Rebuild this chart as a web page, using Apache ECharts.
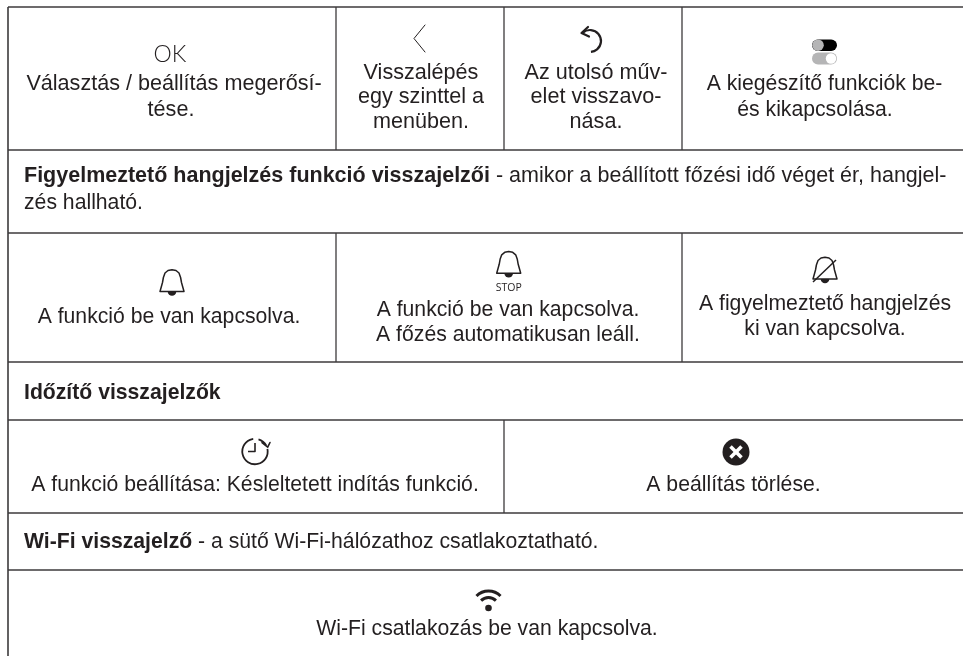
<!DOCTYPE html>
<html><head><meta charset="utf-8">
<style>html,body{margin:0;padding:0;background:#fff}#c{width:963px;height:656px}</style>
<script src="https://cdn.jsdelivr.net/npm/echarts@6/dist/echarts.min.js"></script>
</head><body><div id="c"></div>
<script>
const okLabel = 'OK';
const stopLabel = 'STOP';
const row1Texts = [
  ['Választás / beállítás megerősí-', 'tése.'],
  ['Visszalépés', 'egy szinttel a', 'menüben.'],
  ['Az utolsó műv-', 'elet visszavo-', 'nása.'],
  ['A kiegészítő funkciók be-', 'és kikapcsolása.']
];
const alertHeadBold = 'Figyelmeztető hangjelzés funkció visszajelzői';
const alertHeadRest = [' - amikor a beállított főzési idő véget ér, hangjel-', 'zés hallható.'];
const row3Texts = [
  ['A funkció be van kapcsolva.'],
  ['A funkció be van kapcsolva.', 'A főzés automatikusan leáll.'],
  ['A figyelmeztető hangjelzés', 'ki van kapcsolva.']
];
const timerHead = 'Időzítő visszajelzők';
const row5Texts = ['A funkció beállítása: Késleltetett indítás funkció.', 'A beállítás törlése.'];
const wifiHeadBold = 'Wi-Fi visszajelző';
const wifiHeadRest = ' - a sütő Wi-Fi-hálózathoz csatlakoztatható.';
const wifiText = 'Wi-Fi csatlakozás be van kapcsolva.';

const INK = '#231f20', LINE = '#3c3a3b', FAMILY = 'Liberation Sans', FS = 21.2, FS_WIDE = 21.6;
const els = [];
function line(x1, y1, x2, y2, w, c) {
  els.push({type:'line', shape:{x1,y1,x2,y2}, style:{stroke:c||LINE, lineWidth:w||1.5}, silent:true});
}
// y is the wanted baseline of the line of text
function text(str, x, y, align, extra) {
  const o = Object.assign({fontFamily:FAMILY, fontSize:FS, fontWeight:'normal'}, extra||{});
  els.push({type:'text', x, y:y-o.fontSize*0.35+3, style:Object.assign({text:str, fill:INK, align:align||'center', verticalAlign:'middle'}, o)});
}
function mixed(bold, rest, y, fs) {
  els.push({type:'text', x:24, y:y-fs*0.35+3, style:{
    text:'{b|'+bold+'}{r|'+rest+'}', verticalAlign:'middle', align:'left',
    rich:{b:{fontFamily:FAMILY,fontWeight:'bold',fontSize:fs,fill:INK},
          r:{fontFamily:FAMILY,fontSize:fs,fill:INK}}}});
}
function poly(points, o) {
  els.push({type:'polyline', shape:{points}, style:Object.assign({stroke:INK, lineWidth:1.6, fill:null, lineCap:'round', lineJoin:'round'}, o||{}), silent:true});
}
function bell(cx, base) {
  const p = [[-12,0],[-9.5,-9],[-8.6,-14],[-7,-18.5],[-4,-21],[0,-21.8],[4,-21],[7,-18.5],[8.6,-14],[9.5,-9],[12,0],[-12,0]]
    .map(q=>[cx+q[0], base+q[1]]);
  poly(p, {lineWidth:1.5});
  els.push({type:'sector', shape:{cx, cy:base, r:4.3, r0:0, startAngle:0, endAngle:Math.PI, clockwise:true}, style:{fill:INK}, silent:true});
}
function arc(cx, cy, r, a0, a1, w) {
  els.push({type:'arc', shape:{cx,cy,r,startAngle:a0*Math.PI/180,endAngle:a1*Math.PI/180,clockwise:true}, style:{stroke:INK,lineWidth:w,fill:null}, silent:true});
}
// grid
[7,150,233,362,420,513,570].forEach(y=>line(8,y,963,y,1.6));
line(8,7,8,656,1.6);
[336,504,682].forEach(x=>line(x,7,x,150,1.3));
[336,682].forEach(x=>line(x,233,x,362,1.3));
line(504,420,504,513,1.3);

// row 1
const wide = {fontSize:FS_WIDE};
text(okLabel, 170, 60, 'center', {fontFamily:'Lato', fontSize:23, fontWeight:300});
text(row1Texts[0][0], 174, 89, 'center', wide); text(row1Texts[0][1], 171, 115, 'center', wide);
[78,102,127].forEach((b,i)=>text(row1Texts[1][i], 421, b, 'center', wide));
[78,102,127].forEach((b,i)=>text(row1Texts[2][i], 596, b, 'center', wide));
text(row1Texts[3][0], 824.5, 89); text(row1Texts[3][1], 815, 115);
poly([[425,25],[414,38.5],[425,52]], {lineWidth:1});
arc(590, 41, 11, -130, 85, 2.2);
poly([[588,27],[581.5,33],[589,36.5]], {lineWidth:2.2});
els.push({type:'rect', shape:{x:812,y:39.5,width:25,height:11.5,r:5.8}, style:{fill:'#000'}, silent:true});
els.push({type:'circle', shape:{cx:818,cy:45.2,r:5.8}, style:{fill:'#b5b5b6'}, silent:true});
els.push({type:'rect', shape:{x:812,y:52.5,width:25,height:12,r:6}, style:{fill:'#b5b5b6'}, silent:true});
els.push({type:'circle', shape:{cx:831,cy:58.5,r:5.2}, style:{fill:'#fff'}, silent:true});

// row 2
mixed(alertHeadBold, alertHeadRest[0], 181, 21.5);
text(alertHeadRest[1], 24, 208, 'left');

// row 3
bell(172, 291.5);
text(row3Texts[0][0], 169, 322);
bell(508.7, 273.3);
text(stopLabel, 508.7, 289, 'center', {fontFamily:'Open Sans', fontSize:10.5});
text(row3Texts[1][0], 508, 315); text(row3Texts[1][1], 508, 340);
bell(825, 279);
line(813,282,836,260,1.5,INK);
text(row3Texts[2][0], 825, 309); text(row3Texts[2][1], 825, 334);

// row 4
text(timerHead, 24, 398, 'left', {fontWeight:'bold'});

// row 5
arc(255, 451.5, 12.7, -12, 262, 1.8);
arc(255, 451.5, 12.7, -74, -28, 1.8);
poly([[255,443],[255,451.5],[248,451.5]], {lineWidth:1.6, lineCap:'butt'});
poly([[262,442.7],[267.7,447.2],[270,442.5]], {lineWidth:1.6});
text(row5Texts[0], 255, 490);
els.push({type:'circle', shape:{cx:736,cy:452,r:13.5}, style:{fill:INK}, silent:true});
line(730.5,446.5,741.5,457.5,3.6,'#fff');
line(741.5,446.5,730.5,457.5,3.6,'#fff');
text(row5Texts[1], 733.5, 490);

// row 6
mixed(wifiHeadBold, wifiHeadRest, 547, FS);

// row 7
arc(488.5, 608, 17, -135, -45, 3);
arc(488.5, 608, 10.5, -135, -45, 3);
els.push({type:'circle', shape:{cx:488.5,cy:608,r:3.3}, style:{fill:INK}, silent:true});
text(wifiText, 487, 634);

const chart = echarts.init(document.getElementById('c'), null, {renderer:'canvas'});
chart.setOption({animation:false, backgroundColor:'#fff', graphic:{elements:els}});
</script></body></html>
